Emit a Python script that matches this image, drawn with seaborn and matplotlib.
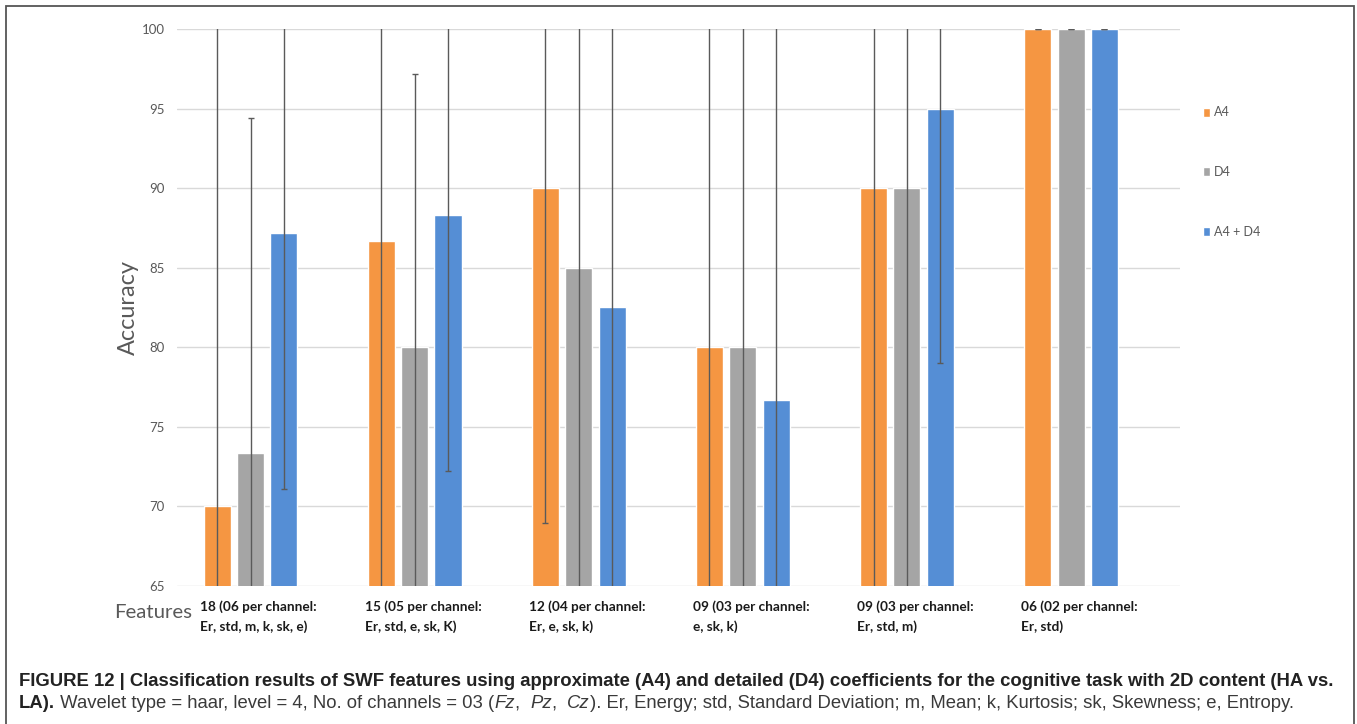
import pandas as pd
import matplotlib.pyplot as plt
import seaborn as sns
from matplotlib.patches import Rectangle

# Feature sets on the x axis
groups = ["18 (06 per channel:\nEr, std, m, k, sk, e)",
          "15 (05 per channel:\nEr, std, e, sk, K)",
          "12 (04 per channel:\nEr, e, sk, k)",
          "09 (03 per channel:\ne, sk, k)",
          "09 (03 per channel:\nEr, std, m)",
          "06 (02 per channel:\nEr, std)"]
series = ["A4", "D4", "A4 + D4"]

# Accuracy values
a4 = [70, 86.67, 90, 80, 90, 100]
d4 = [73.33, 80, 85, 80, 90, 100]
a4d4 = [87.17, 88.33, 82.5, 76.67, 95, 100]

# Error bar half-lengths (the ones running off the axes are estimates)
a4_err = [35, 28, 21.06, 25, 30, 0]
d4_err = [21.1, 17.2, 25, 25, 30, 0]
a4d4_err = [16.1, 16.1, 20, 25, 16.0, 0]

colors = ["#F59642", "#A5A5A5", "#558ED5"]

# long form table for seaborn
df = pd.DataFrame({
    "group": groups * 3,
    "series": [s for s in series for _ in groups],
    "acc": a4 + d4 + a4d4,
})
errs = [a4_err, d4_err, a4d4_err]

sns.set_style("white")
plt.rcParams["font.family"] = ["Lato", "DejaVu Sans"]

fig = plt.figure(figsize=(13.57, 7.24), dpi=100)
renderer = fig.canvas.get_renderer()
ax = fig.add_axes([177 / 1357, 1 - 586 / 724, (1180 - 177) / 1357, (586 - 29) / 724])


def fit_size(text, target_px, **kw):
    # font size that makes `text` about target_px wide
    t = fig.text(0, 0, text, fontsize=10, **kw)
    w = t.get_window_extent(renderer).width
    t.remove()
    return 10 * target_px / w


sns.barplot(data=df, x="group", y="acc", hue="series", hue_order=series,
            palette=colors, width=0.61, gap=0.19, errorbar=None,
            saturation=1, ax=ax, zorder=2)

# error bars at the bar centres
for cont, e in zip(ax.containers, errs):
    xs = [p.get_x() + p.get_width() / 2 for p in cont.patches]
    hs = [p.get_height() for p in cont.patches]
    ax.errorbar(xs, hs, yerr=e, fmt="none", ecolor="#5a5a5a",
                elinewidth=1, capsize=2.5, capthick=1, zorder=3)

ax.set_ylim(65, 100)
ax.set_yticks(range(65, 101, 5))
ax.set_xlim(-0.448, 5.664)
ax.set_axisbelow(True)
ax.yaxis.grid(True, color="#d9d9d9", lw=1)
for s in ax.spines.values():
    s.set_visible(False)

# x labels start at the left edge of each group
tick_fs = fit_size("18 (06 per channel:", 117, fontweight="bold")
ax.set_xticks([i - 0.305 for i in range(len(groups))])
ax.set_xticklabels(groups, ha="left", va="top", fontsize=tick_fs,
                   fontweight="bold", color="#1a1a1a", linespacing=1.75)
ax.tick_params(axis="x", length=0, pad=10)
ax.tick_params(axis="y", length=0, pad=9, labelsize=9.5, labelcolor="#595959")
ax.set_xlabel("")

ax.set_ylabel("Accuracy", fontsize=fit_size("Accuracy", 95), color="#595959")
ax.yaxis.label.set_va("center")
ax.yaxis.set_label_coords((128 - 177) / 1003, 0.5)

fig.text(192 / 1357, 1 - 613 / 724, "Features", ha="right", va="center",
         fontsize=fit_size("Features", 78), color="#595959")

# legend at the right
handles, labels = ax.get_legend_handles_labels()
ax.get_legend().remove()
fig.legend(handles, labels, loc="center left",
           bbox_to_anchor=(1192 / 1357, 1 - 172 / 724), frameon=False,
           fontsize=9, labelcolor="#595959", handlelength=0.55,
           handleheight=0.75, handletextpad=0.3, labelspacing=3.8)

# caption
cap_font = ["Liberation Sans", "DejaVu Sans"]
line1 = ("FIGURE 12 | Classification results of SWF features using approximate (A4) "
         "and detailed (D4) coefficients for the cognitive task with 2D content (HA vs.")
cap = fit_size(line1, 1321, fontweight="bold", family=cap_font)
fig.text(19 / 1357, 1 - 681 / 724, line1, ha="left", va="center", fontsize=cap,
         fontweight="bold", color="#222222", family=cap_font)
pieces = [("LA).", "bold", "normal"),
          (" Wavelet type = haar, level = 4, No. of channels = 03 (", "normal", "normal"),
          ("Fz", "normal", "italic"), (",  ", "normal", "normal"),
          ("Pz", "normal", "italic"), (",  ", "normal", "normal"),
          ("Cz", "normal", "italic"),
          ("). Er, Energy; std, Standard Deviation; m, Mean; k, Kurtosis; "
           "sk, Skewness; e, Entropy.", "normal", "normal")]
prev = None
for txt, w, st in pieces:
    if prev is None:
        prev = fig.text(19 / 1357, 1 - 704 / 724, txt, ha="left", va="center",
                        fontsize=cap, fontweight=w, style=st, color="#222222",
                        family=cap_font)
    else:
        prev = ax.annotate(txt, xy=(1, 0), xycoords=prev, ha="left", va="bottom",
                           fontsize=cap, fontweight=w, style=st, color="#3a3a3a",
                           family=cap_font, annotation_clip=False)

# frame around the figure
fig.patches.append(Rectangle((6 / 1357, -0.01), (1354 - 6) / 1357, 1 - 6 / 724 + 0.01,
                             transform=fig.transFigure, fill=False,
                             edgecolor="#555555", lw=1.3))

fig.savefig("out.png", dpi=100)
